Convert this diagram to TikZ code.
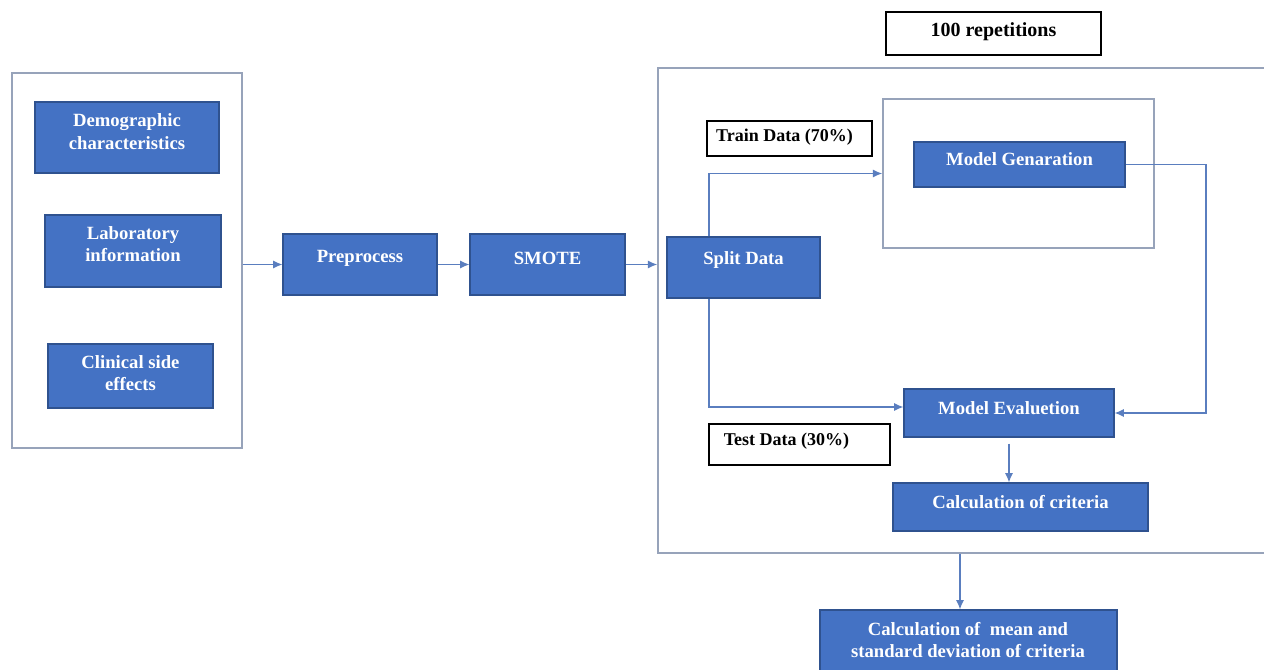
\documentclass[tikz,border=0pt]{standalone}
\usepackage{fontspec}
\setmainfont{Liberation Serif}
\usetikzlibrary{fit,calc,arrows.meta}
\definecolor{boxblue}{HTML}{4472C4}
\definecolor{boxedge}{HTML}{2F528F}
\definecolor{frameg}{HTML}{97A3BA}
\definecolor{conncol}{HTML}{5A7EBF}
\newcommand{\mybox}[6]{%
  \path (#3,#4) coordinate (#1-nw) (#5,#6) coordinate (#1-se);
  \node[#2, fit=(#1-nw)(#1-se)] (#1) {};}
\tikzset{
  bluebox/.style={draw=boxedge, fill=boxblue, line width=0.8pt, inner sep=0pt},
  framebox/.style={draw=frameg, line width=1.1pt, inner sep=0pt},
  tagbox/.style={draw=black, fill=white, line width=0.8pt, inner sep=0pt},
  wtxt/.style={text=white, font=\fontsize{14}{17}\selectfont\bfseries, align=center, inner sep=0pt},
  ktxt/.style={text=black, font=\fontsize{13.5}{17}\selectfont\bfseries, align=center, inner sep=0pt},
  conn/.style={draw=conncol, line width=1pt, -{Latex[length=7pt,width=6pt]}}
}
\begin{document}
\begin{tikzpicture}[x=0.75pt,y=-0.75pt]
\useasboundingbox (0,0) rectangle (1264,670);
\clip (0,0) rectangle (1264,670);
\fill[white] (0,0) rectangle (1264,670);
% frames
\mybox{left}{framebox}{12}{73}{242}{448}
\mybox{big}{framebox}{658}{68}{1275}{553}
\mybox{inner}{framebox}{883}{99}{1154}{248}
% tags
\mybox{rep}{tagbox}{886}{12}{1101}{55}
\node[ktxt, font=\fontsize{15}{18}\selectfont\bfseries] (rep-t) at ($(rep)+(0,-2)$) {100 repetitions};
\mybox{train}{tagbox}{707}{121}{872}{156}
\node[ktxt] (train-t) at ($(train)+(-5,-1)$) {Train Data (70\%)};
\mybox{test}{tagbox}{709}{424}{890}{465}
\node[ktxt] (test-t) at ($(test)+(-13,-3)$) {Test Data (30\%)};
% blue boxes
\mybox{demo}{bluebox}{35}{102}{219}{173}
\node[wtxt] (demo-t) at ($(demo)+(0,-6)$) {Demographic\\characteristics};
\mybox{lab}{bluebox}{45}{215}{221}{287}
\node[wtxt] (lab-t) at ($(lab)+(0,-7)$) {Laboratory\\information};
\mybox{clin}{bluebox}{48}{344}{213}{408}
\node[wtxt] (clin-t) at ($(clin)+(0,-3)$) {Clinical side\\effects};
\mybox{pre}{bluebox}{283}{234}{437}{295}
\node[wtxt] (pre-t) at ($(pre)+(0,-6)$) {Preprocess};
\mybox{smote}{bluebox}{470}{234}{625}{295}
\node[wtxt] (smote-t) at ($(smote)+(0,-6)$) {SMOTE};
\mybox{split}{bluebox}{667}{237}{820}{298}
\node[wtxt] (split-t) at ($(split)+(0,-7)$) {Split Data};
\mybox{gen}{bluebox}{914}{142}{1125}{187}
\node[wtxt] (gen-t) at ($(gen)+(0,-5)$) {Model Genaration};
\mybox{eval}{bluebox}{904}{389}{1114}{437}
\node[wtxt] (eval-t) at ($(eval)+(0,-5)$) {Model Evaluetion};
\mybox{crit}{bluebox}{893}{483}{1148}{531}
\node[wtxt] (crit-t) at ($(crit)+(0,-5)$) {Calculation of criteria};
\mybox{mean}{bluebox}{820}{610}{1117}{690}
\node[wtxt] (mean-t) at (968,640) {Calculation of\ \ mean and\\standard deviation of criteria};
% connector helpers
\coordinate (sx) at (709,0);
\coordinate (rx) at (1206,0);
\coordinate (mx) at (960,0);
% connectors
\draw[conn] (pre.west -| left.east) -- (pre.west);
\draw[conn] (pre.east) -- (smote.west);
\draw[conn] (smote.east) -- (smote.east -| big.west);
\draw[conn] (split.north -| sx) |- (inner.west);
\draw[conn] (split.south -| sx) |- ([yshift=4.5pt]eval.west);
\draw[conn] (gen.east) -| (rx |- eval.east) -- (eval.east);
\draw[conn, shorten <=4.5pt] (eval.south) -- (eval.south |- crit.north);
\draw[conn] (big.south -| mx) -- (mean.north -| mx);
\end{tikzpicture}
\end{document}
